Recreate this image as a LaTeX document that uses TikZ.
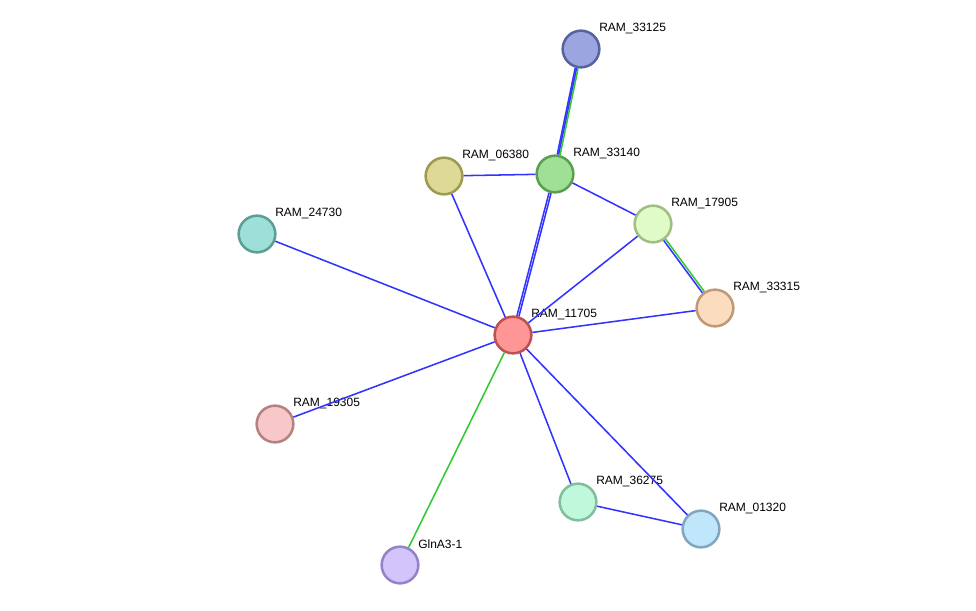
\documentclass[tikz,border=0pt]{standalone}
\usepackage{fontspec}
\setmainfont{Liberation Sans}
\usetikzlibrary{calc}

% node colours: fill f..., border b...
\definecolor{f11705}{RGB}{255,150,150}\definecolor{b11705}{RGB}{190,80,80}
\definecolor{f33125}{RGB}{155,166,224}\definecolor{b33125}{RGB}{88,98,158}
\definecolor{f33140}{RGB}{160,224,150}\definecolor{b33140}{RGB}{90,158,80}
\definecolor{f06380}{RGB}{220,218,150}\definecolor{b06380}{RGB}{158,154,80}
\definecolor{f17905}{RGB}{224,251,200}\definecolor{b17905}{RGB}{160,190,128}
\definecolor{f24730}{RGB}{156,224,216}\definecolor{b24730}{RGB}{90,158,150}
\definecolor{f33315}{RGB}{252,220,190}\definecolor{b33315}{RGB}{190,154,120}
\definecolor{f19305}{RGB}{248,200,200}\definecolor{b19305}{RGB}{180,130,130}
\definecolor{f36275}{RGB}{192,248,220}\definecolor{b36275}{RGB}{128,190,156}
\definecolor{f01320}{RGB}{192,230,252}\definecolor{b01320}{RGB}{130,166,190}
\definecolor{fglna}{RGB}{212,196,252}\definecolor{bglna}{RGB}{150,130,200}
\definecolor{edgeblue}{RGB}{51,51,255}
\definecolor{edgegreen}{RGB}{51,200,51}

\tikzset{prot/.style={circle, line width=1.9pt, minimum size=27.5pt, inner sep=0pt}}
\tikzset{lbl/.style={anchor=west, inner sep=0pt, font=\fontsize{9}{10}\selectfont}}
\tikzset{link/.style={draw=edgeblue, line width=1.15pt}}
\tikzset{glink/.style={draw=edgegreen, line width=1.15pt}}

\begin{document}
\begin{tikzpicture}[x=0.75pt,y=-0.75pt]
\useasboundingbox (0,0) rectangle (976,611);
\foreach \n/\x/\y/\t in {11705/513/335/RAM\_11705, 33125/581/49/RAM\_33125,
  33140/555/174/RAM\_33140, 06380/444/176/RAM\_06380, 17905/653/224/RAM\_17905,
  24730/257/234/RAM\_24730, 33315/715/308/RAM\_33315, 19305/275/424/RAM\_19305,
  36275/578/502/RAM\_36275, 01320/701/529/RAM\_01320, glna/400/565/GlnA3-1} {
\node[prot, fill=f\n, draw=b\n] (p\n) at (\x,\y) {};
\node[lbl] (l\n) at ([shift={(18,-20.5)}]p\n.center) {\t};
}
\foreach \a/\b in {33140/06380, 33140/17905, 06380/11705, 17905/11705,
  33315/11705, 24730/11705, 19305/11705, 36275/11705, 01320/11705, 36275/01320}
  \draw[link] (p\a) -- (p\b);
% double and mixed links
\draw[link, transform canvas={xshift=0.75pt, yshift=-0.2pt}] (p33140) -- (p11705);
\draw[link, transform canvas={xshift=-0.75pt, yshift=0.2pt}] (p33140) -- (p11705);
\draw[link, transform canvas={xshift=-1.3pt, yshift=0.27pt}] (p33125) -- (p33140);
\draw[link, transform canvas={xshift=-0.3pt, yshift=0.06pt}] (p33125) -- (p33140);
\draw[glink, transform canvas={xshift=0.8pt, yshift=-0.16pt}] (p33125) -- (p33140);
\draw[link, transform canvas={xshift=-0.7pt, yshift=-0.5pt}] (p17905) -- (p33315);
\draw[glink, transform canvas={xshift=0.7pt, yshift=0.5pt}] (p17905) -- (p33315);
\draw[glink] (pglna) -- (p11705);
\end{tikzpicture}
\end{document}
